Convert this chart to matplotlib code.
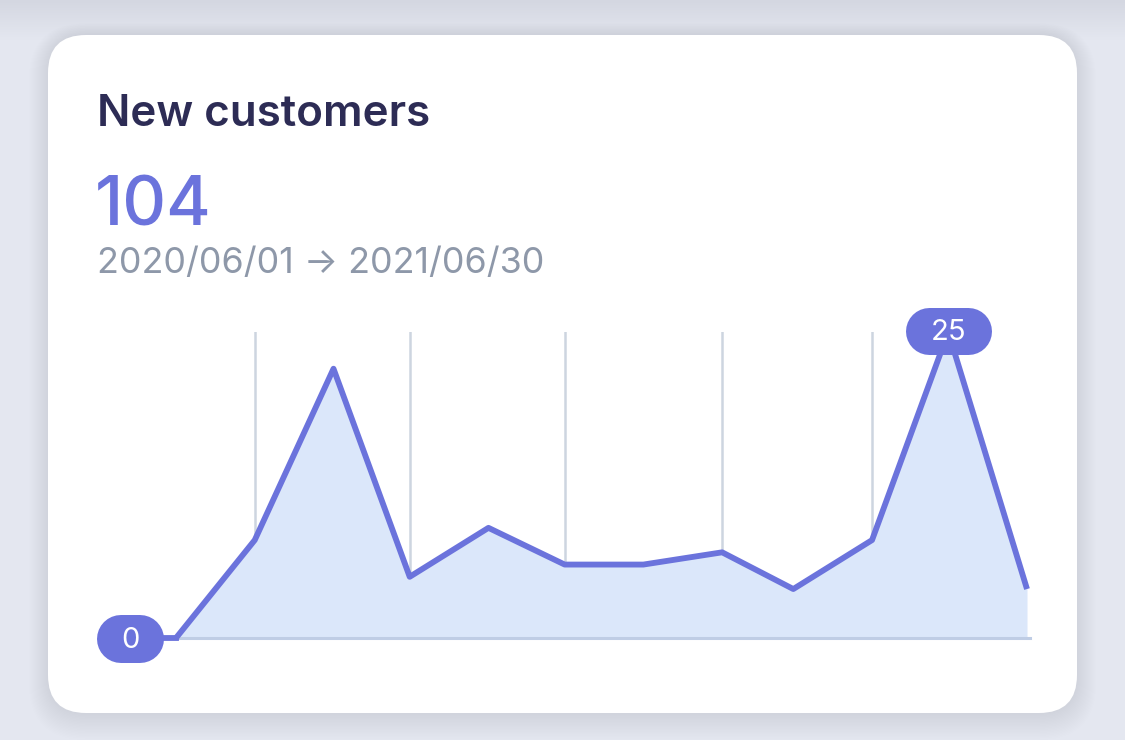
import matplotlib
matplotlib.use("Agg")
import matplotlib.pyplot as plt
import matplotlib.dates as mdates
from matplotlib.patches import FancyBboxPatch
from matplotlib.transforms import IdentityTransform
from matplotlib.lines import Line2D
import numpy as np
import pandas as pd

# ---- data ----
title = "New customers"
total_label = "104"
date_range = "2020/06/01 \u2192 2021/06/30"
months = pd.to_datetime([
    "2020-07-01", "2020-08-01", "2020-09-01", "2020-10-01",
    "2020-11-01", "2020-12-01", "2021-01-01", "2021-02-01",
    "2021-03-01", "2021-04-01", "2021-05-01", "2021-06-01",
])
values = [0, 8, 22, 5, 9, 6, 6, 7, 4, 8, 25, 4]

# ---- style ----
FONT = ["Inter", "DejaVu Sans"]
plt.rcParams["font.family"] = FONT
W, H = 1125, 740
BG = "#e4e7f0"
LINE = "#6b73dc"
FILL = "#dbe7fa"
GRID = "#cdd5e0"
BASE = "#bfcde5"
PX = 0.72  # points per pixel at dpi 100

fig = plt.figure(figsize=(W / 100, H / 100), dpi=100, facecolor=BG)

# background axes in pixel units (origin bottom-left)
bg = fig.add_axes([0, 0, 1, 1])
bg.set_xlim(0, W)
bg.set_ylim(0, H)
bg.axis("off")

# top shadow band (from a card above)
grad = np.linspace(0, 1, 64).reshape(-1, 1)
c_top = np.array([212, 215, 225]) / 255
c_bot = np.array([228, 231, 240]) / 255
img = c_top + (c_bot - c_top) * grad
img = np.repeat(img[:, None, :], 2, axis=1)
bg.imshow(img, extent=(0, W, H - 40, H), aspect="auto", origin="upper", zorder=0)

# card shadow (soft)
cx, cy, cw, ch, r = 48, 27, 1029, 678, 38
for s in range(2, 40, 2):
    bg.add_patch(FancyBboxPatch((cx - s * 0.5, cy - s * 0.7), cw + 1.0 * s, ch + 1.0 * s,
                                boxstyle=f"round,pad=0,rounding_size={r + s * 0.5}",
                                fc="#9aa0b8", ec="none", alpha=0.012, zorder=1))
# card
bg.add_patch(FancyBboxPatch((cx, cy), cw, ch,
                            boxstyle=f"round,pad=0,rounding_size={r}",
                            fc="white", ec="none", zorder=2))

# texts
bg.text(97, H - 126, title, fontsize=31.6, fontweight="semibold", color="#2d2c55",
        ha="left", va="baseline", zorder=3)
bg.text(95, H - 225, total_label, fontsize=49, fontweight="medium", color=LINE,
        ha="left", va="baseline", zorder=3)
bg.text(97, H - 273, date_range, fontsize=25.8, color="#8e98a9",
        ha="left", va="baseline", zorder=3)

# ---- chart axes ----
x0, x1 = 176, 1027
y0, y1 = 638, 332
ax = fig.add_axes([x0 / W, (H - y0) / H, (x1 - x0) / W, (y0 - y1) / H])
ax.set_facecolor("none")
ax.set_xlim(months[0], months[-1])
ax.set_ylim(0, 25)
for sp in ax.spines.values():
    sp.set_visible(False)
ax.set_xticks(months[1:-1:2])
ax.set_yticks([])
ax.tick_params(axis="x", length=0, labelbottom=False)
ax.grid(axis="x", color=GRID, linewidth=1.8, zorder=0)
ax.set_axisbelow(True)

ax.fill_between(months, values, 0, color=FILL, linewidth=0, zorder=1)
ax.axhline(0, xmin=0, xmax=1.003, color=BASE, linewidth=2.2, zorder=2, clip_on=False)
ax.plot(months, values, color=LINE, linewidth=4.2, solid_joinstyle="round",
        solid_capstyle="butt", zorder=3, clip_on=False)

# pills for min and max
fig.canvas.draw()
vals = np.array(values)
imax = int(np.argmax(vals))
imin = int(np.argmin(vals))
xnum = mdates.date2num(months)


def pill(cx_, cy_, w, h, label):
    half = (w - h) / 2
    ax.add_line(Line2D([cx_ - half, cx_ + half], [cy_, cy_], color=LINE,
                       linewidth=h * PX, solid_capstyle="round",
                       transform=IdentityTransform(), clip_on=False, zorder=6))
    ax.text(cx_, cy_ - 1, label, transform=IdentityTransform(), color="white",
            fontsize=21, ha="center", va="center", zorder=7, clip_on=False)


px, py = ax.transData.transform((xnum[imax], vals[imax]))
pill(px, py + 1, 86, 47, str(values[imax]))

mx, my = ax.transData.transform((xnum[imin], vals[imin]))
mcx = mx - 46
ax.add_line(Line2D([mcx, mx], [my, my], color=LINE, linewidth=4.2,
                   transform=IdentityTransform(), clip_on=False, zorder=5))
pill(mcx, my - 1, 67, 48, str(values[imin]))

fig.savefig("out.png", dpi=100, facecolor=BG)
